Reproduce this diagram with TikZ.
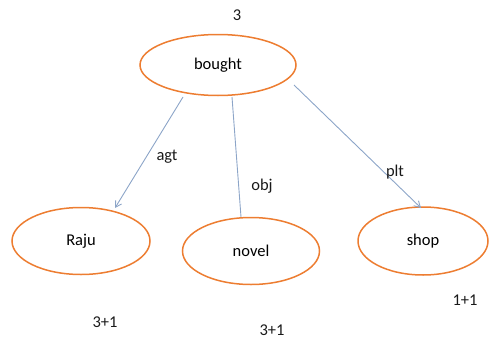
\documentclass[tikz,border=0pt]{standalone}
\usepackage{fontspec}
\setmainfont{Carlito}
\usetikzlibrary{shapes.geometric,arrows.meta}
\definecolor{ringorange}{RGB}{237,125,49}
\definecolor{linkblue}{RGB}{140,165,200}
\tikzset{
  concept/.style={ellipse, draw=ringorange, line width=1.5pt, fill=white,
    minimum width=#1, inner sep=0pt, font=\fontsize{16.5}{19}\selectfont},
  rel/.style={draw=linkblue, line width=0.9pt},
  relarrow/.style={rel, -{Straight Barb[length=6pt,width=7pt]}},
  tag/.style={font=\fontsize{16.5}{19}\selectfont, text=black!90}
}
\begin{document}
\begin{tikzpicture}[x=1pt,y=-1pt]
  \useasboundingbox (0,0) rectangle (490,340);
  % concept nodes
  \node[concept=156pt, minimum height=61pt] (bought) at (218,65) {bought};
  \node[concept=138pt, minimum height=67pt] (raju) at (81,241) {Raju};
  \node[concept=137pt, minimum height=67pt] (novel) at (251,251) {novel};
  \node[concept=130pt, minimum height=68pt] (shop) at (423,241) {shop};
  % relation endpoints
  \coordinate (agtS) at (183,97);
  \coordinate (agtE) at (115,208);
  \coordinate (objS) at (232,97);
  \coordinate (objE) at (241,217);
  \coordinate (pltS) at (294,85);
  \coordinate (pltE) at (421,208);
  \draw[relarrow] (agtS) -- (agtE);
  \draw[rel] (objS) -- (objE);
  \draw[relarrow] (pltS) -- (pltE);
  % relation labels
  \node[tag] (agt) at (167,157) {agt};
  \node[tag] (obj) at (262,186) {obj};
  \node[tag] (plt) at (395,172) {plt};
  % counts
  \node[tag] (cb) at (237,15) {3};
  \node[tag] (cr) at (105,322) {3+1};
  \node[tag] (cn) at (272,330) {3+1};
  \node[tag] (cs) at (465,300) {1+1};
\end{tikzpicture}
\end{document}
